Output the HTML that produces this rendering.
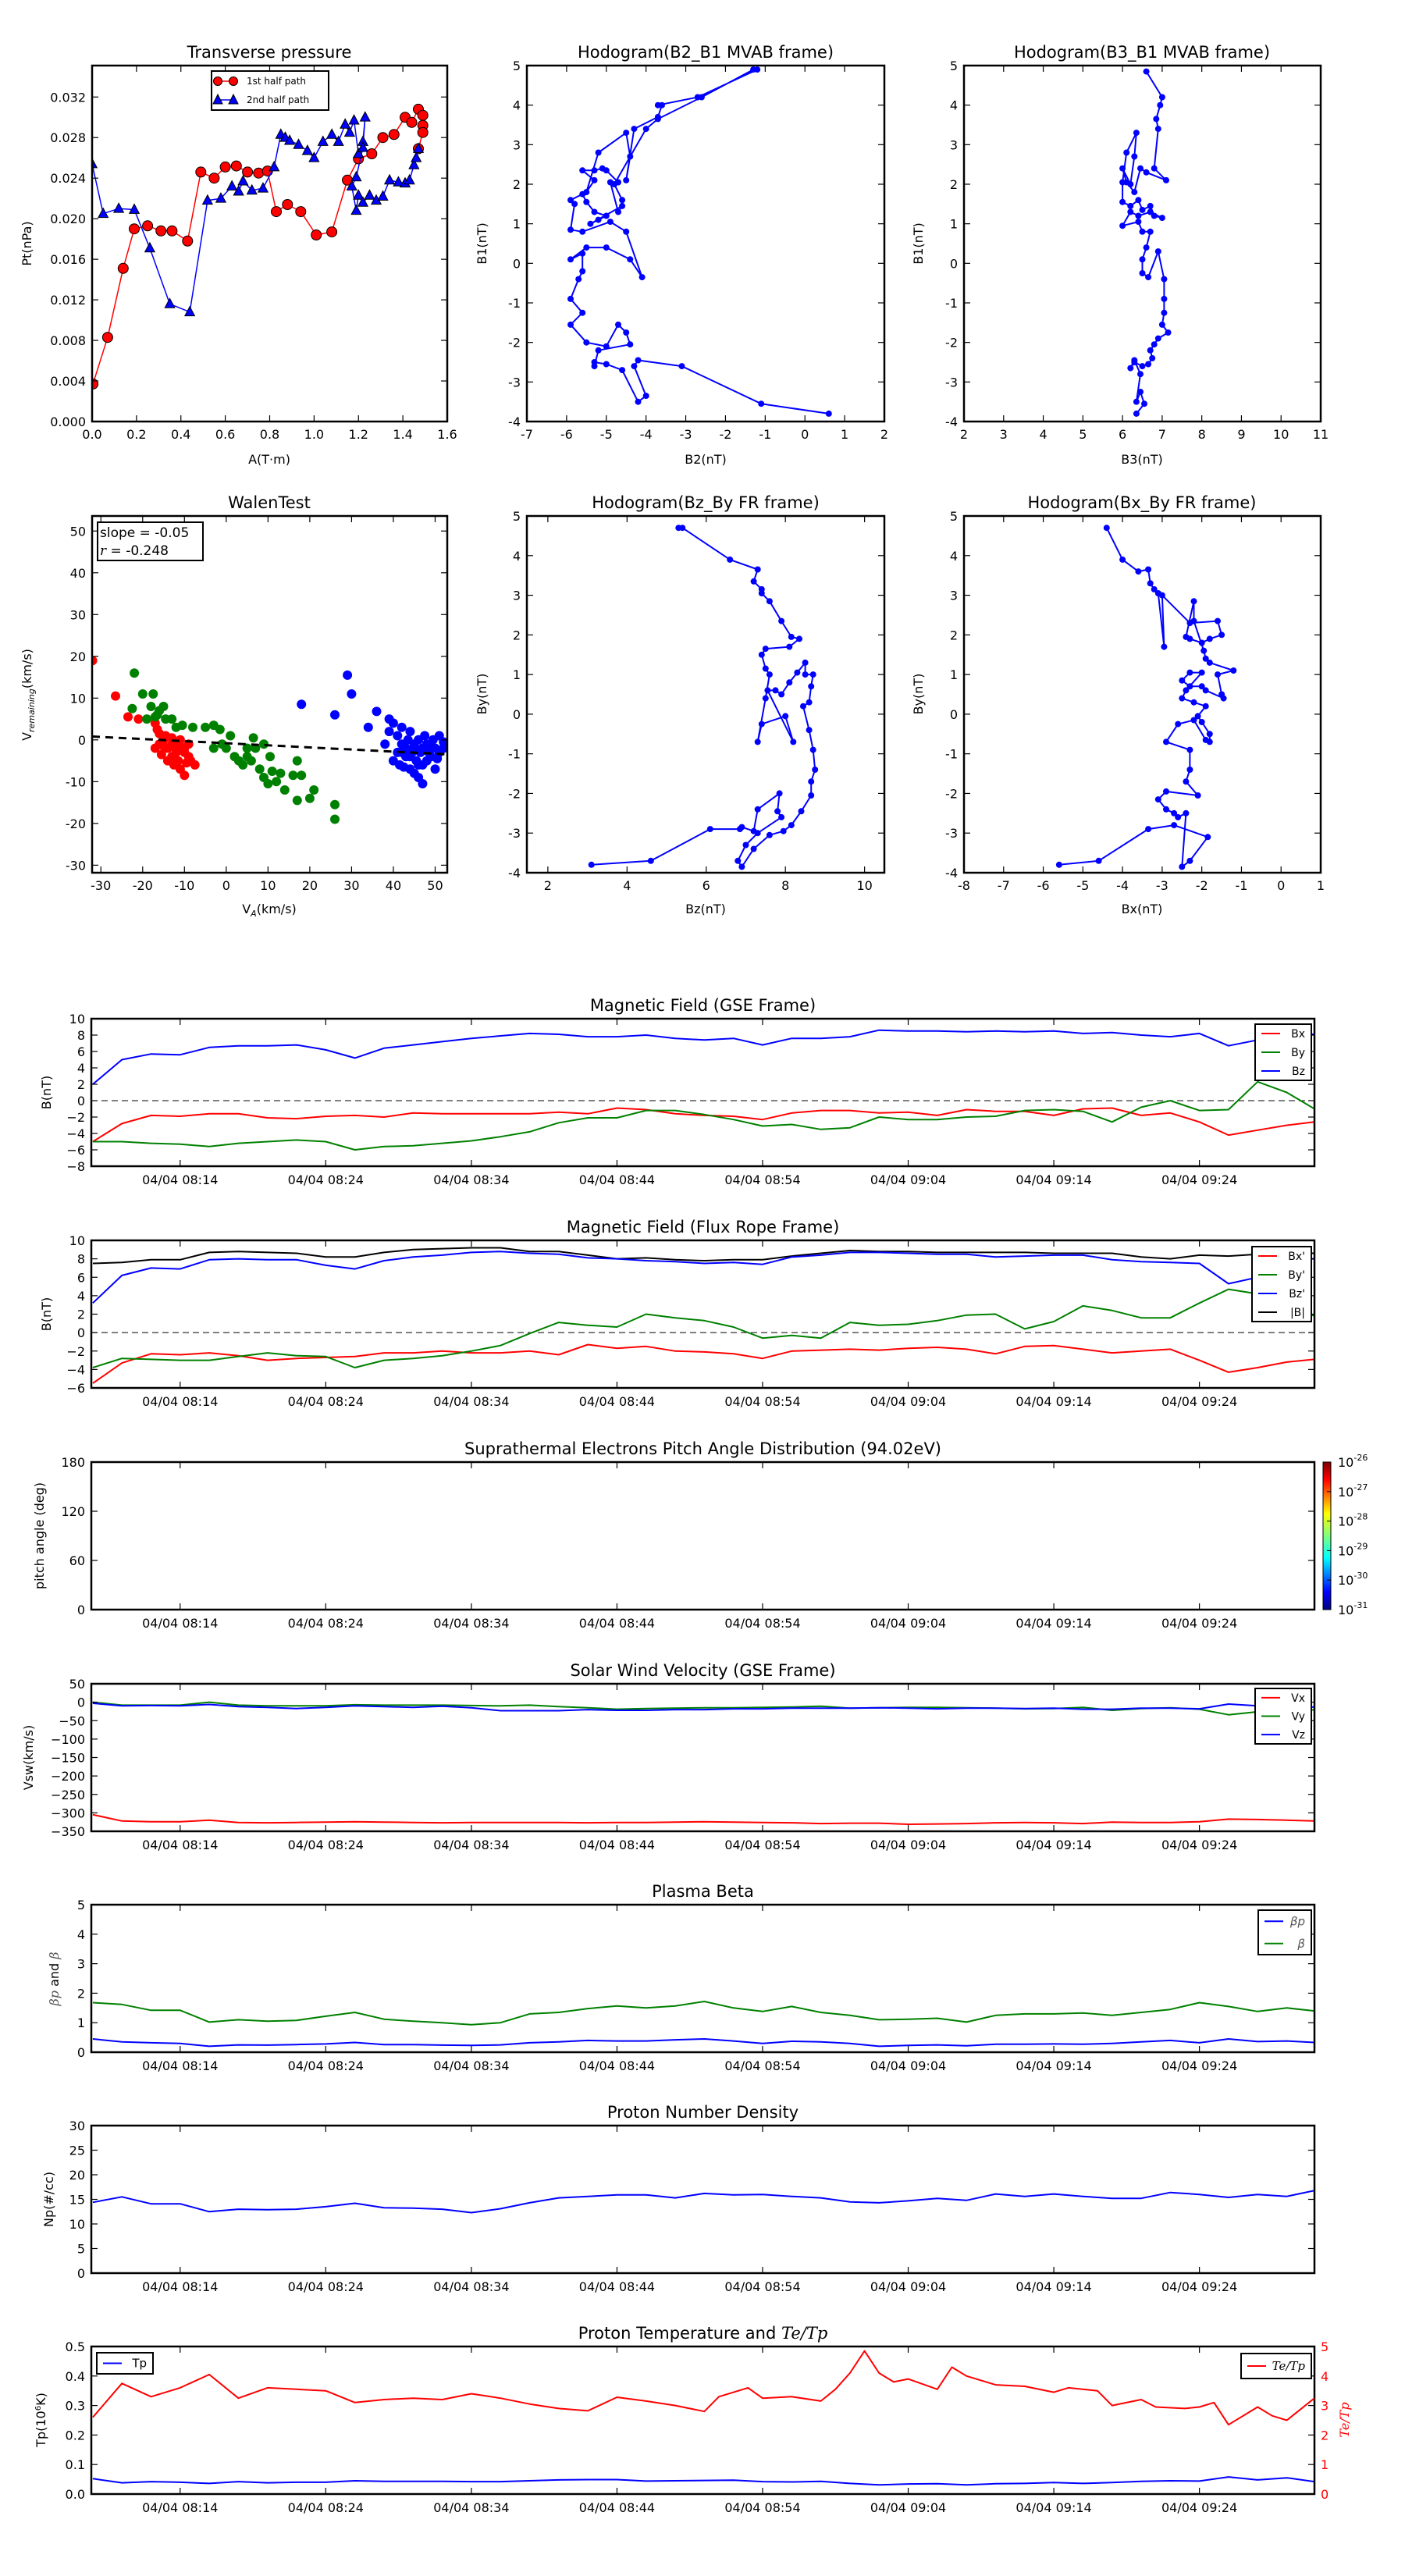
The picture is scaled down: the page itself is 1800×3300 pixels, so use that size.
<!DOCTYPE html>
<html><head><meta charset="utf-8"><title>Flux rope analysis</title>
<style>
html,body{margin:0;padding:0;background:#fff;}
svg{display:block;font-family:"DejaVu Sans","Liberation Sans",sans-serif;}
</style></head>
<body>
<svg id="fig" xmlns="http://www.w3.org/2000/svg" width="1800" height="3300" viewBox="0 0 1800 3300">
<defs>
<linearGradient id="jet" x1="0" y1="1" x2="0" y2="0">
<stop offset="0" stop-color="#00007f"/><stop offset="0.12" stop-color="#0000ff"/><stop offset="0.35" stop-color="#00ffff"/><stop offset="0.5" stop-color="#7fff7f"/><stop offset="0.65" stop-color="#ffff00"/><stop offset="0.88" stop-color="#ff0000"/><stop offset="1" stop-color="#7f0000"/>
</linearGradient>
</defs>
<rect x="0" y="0" width="1800" height="3300" fill="#fff"/>
</svg>
<script>
// ---------------- DATA ----------------
const ptRedA=[0.004,0.07,0.14,0.19,0.25,0.31,0.36,0.43,0.49,0.55,0.60,0.65,0.70,0.75,0.79,0.83,0.88,0.94,1.01,1.08,1.15,1.20,1.26,1.31,1.36,1.41,1.44,1.47,1.49,1.49,1.49,1.47];
const ptRedP=[0.0037,0.0083,0.0151,0.0190,0.0193,0.0188,0.0188,0.0178,0.0246,0.0240,0.0251,0.0252,0.0246,0.0245,0.0247,0.0207,0.0214,0.0207,0.0184,0.0187,0.0238,0.0259,0.0264,0.0280,0.0283,0.0300,0.0295,0.0308,0.0302,0.0292,0.0285,0.0269];
const ptBlueA=[0.0,0.05,0.12,0.19,0.26,0.35,0.44,0.52,0.58,0.63,0.66,0.68,0.72,0.77,0.82,0.85,0.87,0.89,0.93,0.97,1.00,1.04,1.08,1.11,1.14,1.16,1.18,1.20,1.22,1.23,1.22,1.19,1.17,1.19,1.20,1.22,1.25,1.28,1.31,1.34,1.38,1.41,1.43,1.45,1.46,1.47];
const ptBlueP=[0.0254,0.0205,0.0210,0.0209,0.0171,0.0116,0.0108,0.0218,0.0220,0.0232,0.0227,0.0237,0.0228,0.0230,0.0251,0.0283,0.0280,0.0277,0.0273,0.0267,0.0260,0.0276,0.0283,0.0276,0.0293,0.0285,0.0297,0.0264,0.0276,0.0300,0.0270,0.0241,0.0232,0.0208,0.0223,0.0216,0.0223,0.0218,0.0222,0.0238,0.0236,0.0235,0.0238,0.0253,0.0260,0.0269];
const hB2=[0.6,-1.1,-3.1,-4.2,-4.3,-4.0,-4.2,-4.6,-5.0,-5.3,-5.3,-5.2,-4.4,-4.5,-4.7,-5.0,-5.5,-5.9,-5.6,-5.9,-5.7,-5.6,-5.6,-5.9,-5.5,-5.0,-4.4,-4.1,-4.5,-4.9,-5.6,-5.9,-5.8,-5.9,-5.6,-5.5,-5.3,-5.0,-5.2,-5.4,-4.6,-4.7,-4.9,-4.7,-5.0,-5.1,-5.3,-5.6,-5.3,-5.5,-5.2,-4.5,-4.4,-4.5,-4.3,-3.7,-3.6,-3.7,-2.7,-1.2,-1.3,-2.6,-3.7,-4.0,-4.8,-4.6];
const hB1=[-3.8,-3.55,-2.6,-2.45,-2.6,-3.35,-3.5,-2.7,-2.55,-2.5,-2.6,-2.2,-2.05,-1.75,-1.55,-2.1,-2.0,-1.55,-1.25,-0.9,-0.4,-0.2,0.25,0.1,0.4,0.4,0.1,-0.35,0.8,1.05,0.8,0.85,1.5,1.6,1.75,1.55,1.3,1.2,1.1,1.0,1.45,1.3,2.05,2.05,2.35,2.4,2.35,2.35,2.1,1.8,2.8,3.3,2.7,2.1,3.4,3.7,4.0,4.0,4.2,4.9,4.9,4.2,3.65,3.4,2.0,1.6];
const hB3=[6.6,7.0,6.95,6.85,6.9,6.8,7.1,6.6,6.45,6.3,6.1,6.0,6.2,6.3,6.35,6.1,6.0,6.0,6.2,6.4,6.5,6.7,6.8,7.0,6.7,6.4,6.2,6.0,6.4,6.5,6.7,6.6,6.5,6.5,6.65,6.9,7.05,7.05,7.05,7.0,7.15,6.9,6.8,6.7,6.75,6.65,6.5,6.3,6.2,6.3,6.45,6.35,6.45,6.55,6.35];
const hB1c=[4.85,4.2,4.0,3.65,3.4,2.4,2.1,2.3,2.4,1.8,2.05,2.4,2.0,2.7,3.3,2.8,2.05,1.55,1.45,1.6,1.35,1.45,1.2,1.15,1.3,1.2,1.3,0.95,1.05,0.8,0.8,0.4,0.1,-0.25,-0.35,0.3,-0.4,-0.9,-1.25,-1.55,-1.75,-1.9,-2.05,-2.2,-2.4,-2.55,-2.6,-2.5,-2.65,-2.45,-2.8,-3.5,-3.25,-3.55,-3.8];
const wRedX=[-32,-26.5,-23.5,-21,-17,-16.5,-17,-16,-15,-15.5,-14,-14,-13,-13,-12.5,-12,-12,-11.5,-11,-11,-10,-10,-9.5,-9,-9,-8.5,-7.5,-16,-14.5,-13,-11,-10,-15,-12];
const wRedY=[19,10.5,5.5,5,4,2.5,-2,-1,0,-3.5,-2,-5,-1,-4,-6,-2,-3,-5,-1.5,-7,-3,-8.5,-5.5,-1,-4,-5,-6,1.5,1,0.5,0,-2,-1.5,-1];
const wGreenX=[-22,-22.5,-20,-17.5,-18,-17,-16,-15,-14.5,-13,-12,-10.5,-8,-5,-3,-1.5,1,-3,-1,0,2,3,4,5,5,6,6.5,7,8,9,9,10,10.5,11,12,13,14,16,17,17,18,20,21,26,26,-19,-16.5];
const wGreenY=[16,7.5,11,11,8,5.5,7,8,5,5,3,3.5,3,3,3.5,2.5,1,-2,-1,-2,-4,-5,-6,-2,-4,-5,0.5,-2,-7,-1,-9,-10.5,-4,-7.5,-10,-8,-12,-8.5,-5,-14.5,-8.5,-14,-12,-15.5,-19,5,6];
const wBlueX=[18,26,29,30,34,36,38,39,39,40,40,41,41,41.5,42,42,42.5,43,43,43.5,44,44,44.5,45,45,45.5,46,46,46.5,47,47,47.5,48,48,48.5,49,49.5,50,50,50.5,51,51,52,52,44,45,46,47,49,42];
const wBlueY=[8.5,6,15.5,11,3,6.8,-1,5,2,4,-5,-3,1,-6,-1,3,-6.5,-2,-4,0,-7,2,-3,-8,-1,-5,0,-9,-3,-10.5,-2,1,-5,-1,-3,-4,0,-7,-2,-4.5,1,-3,-2,-0.5,-4,-2,-6,-6,-2,-3];
const walenSlope=-0.05;
const walenIntercept=-0.8;
const hBz=[5.3,5.4,6.6,7.3,7.2,7.4,7.4,7.6,7.9,8.15,8.35,8.1,7.5,7.4,7.5,7.6,7.5,7.3,7.4,8.0,8.2,7.55,7.75,7.9,8.1,8.3,8.5,8.5,8.7,8.65,8.6,8.45,8.6,8.7,8.75,8.65,8.65,8.4,8.15,7.95,7.6,7.2,6.9,6.8,7.0,7.3,7.9,7.8,7.85,7.3,7.2,6.9,6.85,6.1,4.6,3.1];
const hBy=[4.7,4.7,3.9,3.65,3.35,3.15,3.05,2.85,2.35,1.95,1.9,1.7,1.65,1.5,1.15,1.0,0.4,-0.7,-0.25,-0.05,-0.7,0.6,0.6,0.5,0.8,1.05,1.3,1.0,1.0,0.7,0.3,0.2,-0.4,-0.9,-1.4,-1.7,-2.05,-2.45,-2.8,-2.95,-3.05,-3.4,-3.85,-3.7,-3.3,-3.0,-2.6,-2.45,-2.0,-2.4,-2.95,-2.85,-2.9,-2.9,-3.7,-3.8];
const hBx=[-4.4,-4.0,-3.6,-3.35,-3.3,-3.2,-3.1,-2.95,-3.0,-2.3,-1.6,-1.5,-1.8,-2.0,-2.3,-2.4,-2.2,-2.2,-1.95,-1.9,-1.8,-1.2,-1.6,-1.5,-1.45,-1.9,-2.0,-2.3,-2.5,-2.3,-2.0,-2.4,-2.5,-2.2,-1.9,-2.1,-2.0,-1.8,-1.8,-1.9,-2.2,-2.6,-2.9,-2.3,-2.3,-2.4,-2.1,-2.9,-3.1,-2.9,-2.7,-2.6,-2.4,-2.5,-2.3,-1.85,-2.7,-3.35,-4.6,-5.6];
const hBy2=[4.7,3.9,3.6,3.65,3.3,3.15,3.05,1.7,3.0,2.3,2.35,2.0,1.9,1.8,1.9,1.95,2.85,2.35,1.6,1.4,1.3,1.1,1.0,0.5,0.4,0.6,0.7,0.7,0.85,1.05,1.05,0.6,0.4,0.3,0.2,-0.05,-0.2,-0.5,-0.7,-0.65,-0.15,-0.25,-0.7,-0.9,-1.4,-1.7,-2.05,-1.95,-2.15,-2.4,-2.5,-2.6,-2.5,-3.85,-3.7,-3.1,-2.8,-2.9,-3.7,-3.8];

const tMin=[-6,-4,-2,0,2,4,6,8,10,12,14,16,18,20,22,24,26,28,30,32,34,36,38,40,42,44,46,48,50,52,54,56,58,60,62,64,66,68,70,72,74,76,77.9];
const timeTicks=[0,10,20,30,40,50,60,70];
const timeTickLabels=["04/04 08:14","04/04 08:24","04/04 08:34","04/04 08:44","04/04 08:54","04/04 09:04","04/04 09:14","04/04 09:24"];
const gseBx=[-5,-2.8,-1.8,-1.9,-1.6,-1.6,-2.1,-2.2,-1.9,-1.8,-2.0,-1.5,-1.6,-1.6,-1.6,-1.6,-1.4,-1.6,-0.9,-1.1,-1.6,-1.8,-1.9,-2.3,-1.5,-1.2,-1.2,-1.5,-1.4,-1.8,-1.1,-1.3,-1.3,-1.8,-1.0,-0.9,-1.8,-1.5,-2.6,-4.2,-3.6,-3.0,-2.6];
const gseBy=[-5,-5,-5.2,-5.3,-5.6,-5.2,-5.0,-4.8,-5.0,-6.0,-5.6,-5.5,-5.2,-4.9,-4.4,-3.8,-2.7,-2.1,-2.1,-1.2,-1.2,-1.7,-2.3,-3.1,-2.9,-3.5,-3.3,-2.0,-2.3,-2.3,-2.0,-1.9,-1.2,-1.1,-1.3,-2.6,-0.8,0,-1.2,-1.1,2.3,1.0,-1.0];
const gseBz=[2,5,5.7,5.6,6.5,6.7,6.7,6.8,6.2,5.2,6.4,6.8,7.2,7.6,7.9,8.2,8.1,7.8,7.8,8.0,7.6,7.4,7.6,6.8,7.6,7.6,7.8,8.6,8.5,8.5,8.4,8.5,8.4,8.5,8.2,8.3,8.0,7.8,8.2,6.7,7.4,8.2,8.1];
const frBx=[-5.5,-3.3,-2.3,-2.4,-2.2,-2.5,-3.0,-2.8,-2.7,-2.6,-2.2,-2.2,-2.0,-2.2,-2.2,-2.0,-2.4,-1.3,-1.7,-1.5,-2.0,-2.1,-2.3,-2.8,-2.0,-1.9,-1.8,-1.9,-1.7,-1.6,-1.8,-2.3,-1.5,-1.4,-1.8,-2.2,-2.0,-1.8,-3.0,-4.3,-3.8,-3.2,-2.9];
const frBy=[-3.8,-2.8,-2.9,-3.0,-3.0,-2.6,-2.2,-2.5,-2.6,-3.8,-3.0,-2.8,-2.5,-2.0,-1.4,-0.1,1.1,0.8,0.6,2.0,1.6,1.3,0.6,-0.6,-0.3,-0.6,1.1,0.8,0.9,1.3,1.9,2.0,0.4,1.2,2.9,2.4,1.6,1.6,3.2,4.7,4.2,3.0,1.8];
const frBz=[3.2,6.2,7.0,6.9,7.9,8.0,7.9,7.9,7.3,6.9,7.8,8.2,8.4,8.7,8.8,8.6,8.5,8.1,8.0,7.8,7.7,7.5,7.6,7.4,8.2,8.4,8.7,8.7,8.6,8.5,8.5,8.2,8.3,8.4,8.4,7.9,7.7,7.6,7.5,5.3,6.0,8.0,8.0];
const frBt=[7.5,7.6,7.9,7.9,8.7,8.8,8.7,8.6,8.2,8.2,8.7,9.0,9.1,9.2,9.2,8.8,8.8,8.4,8.0,8.1,7.9,7.8,7.9,7.9,8.3,8.6,8.9,8.8,8.8,8.7,8.7,8.7,8.7,8.6,8.6,8.6,8.2,8.0,8.4,8.3,8.5,8.6,8.6];
const vx=[-305,-322,-324,-324,-320,-326,-327,-326,-325,-324,-325,-326,-327,-326,-326,-326,-326,-327,-326,-326,-325,-324,-325,-326,-327,-329,-328,-328,-331,-330,-329,-327,-326,-327,-329,-325,-326,-326,-324,-317,-318,-320,-322];
const vy=[0,-8,-8,-8,0,-8,-10,-10,-10,-7,-8,-8,-8,-9,-10,-8,-12,-15,-19,-17,-16,-15,-15,-14,-13,-11,-16,-15,-14,-14,-15,-16,-18,-17,-14,-22,-17,-15,-19,-34,-26,-20,-21];
const vz=[-3,-10,-9,-10,-6,-12,-14,-17,-14,-10,-12,-14,-11,-15,-23,-23,-23,-20,-22,-22,-20,-20,-18,-18,-16,-16,-16,-15,-16,-18,-16,-16,-17,-16,-19,-19,-16,-16,-18,-5,-10,-16,-13];
const betaP=[0.45,0.35,0.32,0.3,0.2,0.25,0.24,0.26,0.28,0.33,0.26,0.26,0.24,0.23,0.25,0.32,0.35,0.4,0.38,0.38,0.42,0.45,0.38,0.3,0.37,0.35,0.3,0.2,0.23,0.25,0.22,0.27,0.27,0.28,0.27,0.3,0.35,0.4,0.32,0.45,0.36,0.38,0.33];
const betaT=[1.68,1.62,1.42,1.42,1.02,1.1,1.05,1.08,1.22,1.35,1.12,1.05,1.0,0.93,1.0,1.3,1.35,1.48,1.57,1.5,1.57,1.72,1.5,1.38,1.55,1.35,1.25,1.1,1.12,1.15,1.02,1.25,1.3,1.3,1.33,1.25,1.35,1.45,1.68,1.55,1.38,1.5,1.4];
const np=[14.4,15.5,14.1,14.1,12.5,13.0,12.9,13.0,13.5,14.2,13.3,13.2,13.0,12.3,13.1,14.3,15.3,15.6,15.9,15.9,15.3,16.2,15.9,16.0,15.6,15.3,14.5,14.3,14.7,15.2,14.8,16.1,15.6,16.1,15.6,15.2,15.2,16.4,16.0,15.4,16.0,15.6,16.8];
const tp=[0.052,0.038,0.042,0.04,0.036,0.042,0.038,0.040,0.040,0.045,0.043,0.043,0.043,0.042,0.042,0.045,0.048,0.049,0.049,0.044,0.045,0.046,0.047,0.042,0.041,0.043,0.036,0.031,0.034,0.035,0.031,0.035,0.036,0.039,0.036,0.039,0.043,0.045,0.044,0.058,0.048,0.055,0.042];
const teT=[-6,-4,-2,0,2,4,6,8,10,12,14,16,18,20,22,24,26,28,30,32,34,36,37,39,40,42,44,45,46,47,48,49,50,52,53,54,56,58,60,61,63,64,66,67,69,70,71,72,74,75,76,77.9];
const teTp=[2.6,3.75,3.3,3.6,4.05,3.25,3.6,3.55,3.5,3.1,3.2,3.25,3.2,3.4,3.25,3.05,2.9,2.82,3.28,3.15,3.0,2.8,3.3,3.6,3.25,3.3,3.15,3.55,4.1,4.85,4.1,3.8,3.9,3.55,4.3,4.0,3.7,3.65,3.45,3.6,3.5,3.0,3.2,2.95,2.9,2.95,3.1,2.35,2.95,2.65,2.5,3.25];

// ---------------- HELPERS ----------------
const NS='http://www.w3.org/2000/svg';
const svg=document.getElementById('fig');
function mk(tag,attrs,name,parent){
  const el=document.createElementNS(NS,tag);
  for(const k in attrs) el.setAttribute(k,attrs[k]);
  
  
  (parent||svg).appendChild(el);
  return el;
}
function txt(x,y,s,size,anchor,name,extra,parent){
  const a={x:x,y:y,'font-size':size,'text-anchor':anchor||'middle',fill:'#000'};
  if(extra) for(const k in extra) a[k]=extra[k];
  const el=mk('text',a,name,parent);
  el.textContent=s;
  return el;
}
let clipN=0;
function makeAxes(x,y,w,h,xmin,xmax,ymin,ymax,name){
  const g=mk('g',{},name);
  const id='clip'+(clipN++);
  const cp=mk('clipPath',{id:id},name+'-clip',g);
  mk('rect',{x:x,y:y,width:w,height:h},name+'-clip-rect',cp);
  const data=mk('g',{'clip-path':'url(#'+id+')'},name+'-data',g);
  return {g:g,data:data,x:x,y:y,w:w,h:h,name:name,
    sx:v=>x+(v-xmin)/(xmax-xmin)*w,
    sy:v=>y+h-(v-ymin)/(ymax-ymin)*h};
}
function ticks(ax,xt,xl,yt,yl,xlabY,ylabX,fs,opt){
  opt=opt||{};
  const tl=8;
  xt.forEach((v,i)=>{
    const px=ax.sx(v);
    mk('line',{x1:px,y1:ax.y+ax.h,x2:px,y2:ax.y+ax.h-tl,stroke:'#000','stroke-width':1.2},ax.name+'-xtick',ax.g);
    mk('line',{x1:px,y1:ax.y,x2:px,y2:ax.y+tl,stroke:'#000','stroke-width':1.2},ax.name+'-xtick-top',ax.g);
    if(xl) txt(px,ax.y+ax.h+xlabY,xl[i],fs,'middle',ax.name+'-xtick-label',null,ax.g);
  });
  yt.forEach((v,i)=>{
    const py=ax.sy(v);
    mk('line',{x1:ax.x,y1:py,x2:ax.x+tl,y2:py,stroke:'#000','stroke-width':1.2},ax.name+'-ytick',ax.g);
    mk('line',{x1:ax.x+ax.w,y1:py,x2:ax.x+ax.w-tl,y2:py,stroke:'#000','stroke-width':1.2},ax.name+'-ytick-right',ax.g);
    if(yl && !opt.noLeft) txt(ax.x-ylabX,py+6,yl[i],fs,'end',ax.name+'-ytick-label',null,ax.g);
  });
}
function frame(ax){
  mk('rect',{x:ax.x,y:ax.y,width:ax.w,height:ax.h,fill:'none',stroke:'#000','stroke-width':2.5},ax.name+'-frame',ax.g);
}
function line(ax,xs,ys,color,w,name,dash){
  const pts=xs.map((v,i)=>ax.sx(v).toFixed(1)+','+ax.sy(ys[i]).toFixed(1)).join(' ');
  const a={points:pts,fill:'none',stroke:color,'stroke-width':w,'stroke-linejoin':'round'};
  if(dash) a['stroke-dasharray']=dash;
  return mk('polyline',a,name,ax.data);
}
function dots(ax,xs,ys,color,r,name,edge){
  xs.forEach((v,i)=>{
    mk('circle',{cx:ax.sx(v).toFixed(1),cy:ax.sy(ys[i]).toFixed(1),r:r,fill:color,stroke:edge||'none','stroke-width':1},name,ax.data);
  });
}
function tris(ax,xs,ys,color,s,name){
  xs.forEach((v,i)=>{
    const cx=ax.sx(v),cy=ax.sy(ys[i]);
    mk('polygon',{points:(cx)+','+(cy-s)+' '+(cx-s*0.9)+','+(cy+s*0.7)+' '+(cx+s*0.9)+','+(cy+s*0.7),fill:color,stroke:'#000','stroke-width':1},name,ax.data);
  });
}
function ylabel(x,y,s,size,name,color,extra){
  const a={transform:'rotate(-90 '+x+' '+y+')'};
  if(color) a.fill=color;
  if(extra) for(const k in extra) a[k]=extra[k];
  return txt(x,y,s,size,'middle',name,a);
}
function range(a,b,s){const r=[];for(let v=a;v<=b+1e-9;v+=s)r.push(+v.toFixed(6));return r;}
const FS=16, TFS=21;

// ---------------- ROW 1 ----------------
(function(){
  const ax=makeAxes(118,84,455,456,0,1.6,0,0.0351,'pt-plot');
  line(ax,ptRedA,ptRedP,'#ff0000',1.5,'pt-first-half-line');
  dots(ax,ptRedA,ptRedP,'#ff0000',6.5,'pt-first-half-marker','#000');
  line(ax,ptBlueA,ptBlueP,'#0000ff',1.5,'pt-second-half-line');
  tris(ax,ptBlueA,ptBlueP,'#0000ff',7,'pt-second-half-marker');
  const xt=range(0,1.6,0.2);
  const yt=range(0,0.032,0.004);
  ticks(ax,xt,xt.map(v=>v.toFixed(1)),yt,yt.map(v=>v.toFixed(3)),22,8,FS);
  frame(ax);
  txt(345,74,'Transverse pressure',TFS,'middle','pt-title');
  txt(345,594,'A(T·m)',FS,'middle','pt-x-axis-title');
  ylabel(40,312,'Pt(nPa)',FS,'pt-y-axis-title');
  const lg=mk('g',{},'pt-legend');
  mk('rect',{x:271,y:91,width:150,height:50,fill:'#fff',stroke:'#000','stroke-width':2},'pt-legend-box',lg);
  mk('line',{x1:277,y1:104,x2:301,y2:104,stroke:'#ff0000','stroke-width':1.5},'legend-first-half-line',lg);
  mk('circle',{cx:279,cy:104,r:5.5,fill:'#ff0000',stroke:'#000'},'legend-first-half-marker',lg);
  mk('circle',{cx:299,cy:104,r:5.5,fill:'#ff0000',stroke:'#000'},'legend-first-half-marker',lg);
  txt(316,108,'1st half path',12,'start','legend-first-half-label',null,lg);
  mk('line',{x1:277,y1:128,x2:301,y2:128,stroke:'#0000ff','stroke-width':1.5},'legend-second-half-line',lg);
  mk('polygon',{points:'279,121 273,133 285,133',fill:'#0000ff',stroke:'#000'},'legend-second-half-marker',lg);
  mk('polygon',{points:'299,121 293,133 305,133',fill:'#0000ff',stroke:'#000'},'legend-second-half-marker',lg);
  txt(316,132,'2nd half path',12,'start','legend-second-half-label',null,lg);
})();
(function(){
  const ax=makeAxes(675,84,458,456,-7,2,-4,5,'hodogram-b2-b1');
  line(ax,hB2,hB1,'#0000ff',2,'hodogram-b2-b1-line');
  dots(ax,hB2,hB1,'#0000ff',4,'hodogram-b2-b1-point');
  const xt=range(-7,2,1), yt=range(-4,5,1);
  ticks(ax,xt,xt.map(String),yt,yt.map(String),22,8,FS);
  frame(ax);
  txt(904,74,'Hodogram(B2_B1 MVAB frame)',TFS,'middle','hodogram-b2-b1-title');
  txt(904,594,'B2(nT)',FS,'middle','hodogram-b2-b1-x-axis-title');
  ylabel(623,312,'B1(nT)',FS,'hodogram-b2-b1-y-axis-title');
})();
(function(){
  const ax=makeAxes(1235,84,457,456,2,11,-4,5,'hodogram-b3-b1');
  line(ax,hB3,hB1c,'#0000ff',2,'hodogram-b3-b1-line');
  dots(ax,hB3,hB1c,'#0000ff',4,'hodogram-b3-b1-point');
  const xt=range(2,11,1), yt=range(-4,5,1);
  ticks(ax,xt,xt.map(String),yt,yt.map(String),22,8,FS);
  frame(ax);
  txt(1463,74,'Hodogram(B3_B1 MVAB frame)',TFS,'middle','hodogram-b3-b1-title');
  txt(1463,594,'B3(nT)',FS,'middle','hodogram-b3-b1-x-axis-title');
  ylabel(1182,312,'B1(nT)',FS,'hodogram-b3-b1-y-axis-title');
})();

// ---------------- ROW 2 ----------------
(function(){
  const ax=makeAxes(118,661,455,457,-32.1,52.9,-31.8,53.6,'walen-test');
  dots(ax,wRedX,wRedY,'#ff0000',6,'walen-red-point');
  dots(ax,wGreenX,wGreenY,'#008000',6,'walen-green-point');
  dots(ax,wBlueX,wBlueY,'#0000ff',6,'walen-blue-point');
  const fx=[-32.1,52.9];
  line(ax,fx,fx.map(v=>walenSlope*v+walenIntercept),'#000',3,'walen-fit-line','10,7');
  const xt=range(-30,50,10), yt=range(-30,50,10);
  ticks(ax,xt,xt.map(String),yt,yt.map(String),22,8,FS);
  frame(ax);
  mk('rect',{x:125,y:669,width:135,height:49,fill:'#fff',stroke:'#000','stroke-width':2},'walen-stats-box');
  txt(128,688,'slope = -0.05',17,'start','walen-slope-text');
  const r=txt(128,711,'',17,'start','walen-r-text');
  const t1=mk('tspan',{'font-style':'italic','font-family':'"DejaVu Serif",serif'},'walen-r-symbol',r); t1.textContent='r';
  const t2=mk('tspan',{},'walen-r-value',r); t2.textContent=' = -0.248';
  txt(345,651,'WalenTest',TFS,'middle','walen-title');
  const xl=txt(345,1170,'V',FS,'middle','walen-x-axis-title');
  const s1=mk('tspan',{'font-size':11,dy:4,'font-style':'italic'},'walen-x-subscript',xl); s1.textContent='A';
  const s2=mk('tspan',{dy:-4},'walen-x-unit',xl); s2.textContent='(km/s)';
  const yl=ylabel(40,890,'V',FS,'walen-y-axis-title');
  const s3=mk('tspan',{'font-size':11,dy:4,'font-style':'italic'},'walen-y-subscript',yl); s3.textContent='remaining';
  const s4=mk('tspan',{dy:-4},'walen-y-unit',yl); s4.textContent='(km/s)';
})();
(function(){
  const ax=makeAxes(675,661,458,457,1.47,10.5,-4,5,'hodogram-bz-by');
  line(ax,hBz,hBy,'#0000ff',2,'hodogram-bz-by-line');
  dots(ax,hBz,hBy,'#0000ff',4,'hodogram-bz-by-point');
  const xt=range(2,10,2), yt=range(-4,5,1);
  ticks(ax,xt,xt.map(String),yt,yt.map(String),22,8,FS);
  frame(ax);
  txt(904,651,'Hodogram(Bz_By FR frame)',TFS,'middle','hodogram-bz-by-title');
  txt(904,1170,'Bz(nT)',FS,'middle','hodogram-bz-by-x-axis-title');
  ylabel(623,889,'By(nT)',FS,'hodogram-bz-by-y-axis-title');
})();
(function(){
  const ax=makeAxes(1235,661,457,457,-8,1,-4,5,'hodogram-bx-by');
  line(ax,hBx,hBy2,'#0000ff',2,'hodogram-bx-by-line');
  dots(ax,hBx,hBy2,'#0000ff',4,'hodogram-bx-by-point');
  const xt=range(-8,1,1), yt=range(-4,5,1);
  ticks(ax,xt,xt.map(String),yt,yt.map(String),22,8,FS);
  frame(ax);
  txt(1463,651,'Hodogram(Bx_By FR frame)',TFS,'middle','hodogram-bx-by-title');
  txt(1463,1170,'Bx(nT)',FS,'middle','hodogram-bx-by-x-axis-title');
  ylabel(1182,889,'By(nT)',FS,'hodogram-bx-by-y-axis-title');
})();

// ---------------- TIME SERIES ----------------
const TL=117, TW=1684-117, TH=189;
const tops=[1305,1589,1873,2157,2440,2723,3006];
function tsPanel(k,ymin,ymax,yt,title,name,ylab,ylabX){
  const ax=makeAxes(TL,tops[k],TW,TH,-6.1,77.9,ymin,ymax,name);
  ax.yt=yt;
  txt(TL+TW/2,tops[k]-10,title,TFS,'middle',name+'-title');
  if(ylab) ylabel(ylabX,tops[k]+TH/2,ylab,FS,name+'-y-axis-title');
  return ax;
}
function finish(ax,noLeft,ylabels){
  const yl=ylabels||ax.yt.map(v=>String(v).replace('-','\u2212'));
  ticks(ax,timeTicks,timeTickLabels,ax.yt,yl,23,8,FS,{noLeft:noLeft});
  frame(ax);
}
function legend(x,y,w,h,items,name,fs){
  const g=mk('g',{},name);
  mk('rect',{x:x,y:y,width:w,height:h,fill:'#fff',stroke:'#000','stroke-width':2},name+'-box',g);
  const step=h/items.length;
  items.forEach((it,i)=>{
    const cy=y+step*(i+0.5);
    mk('line',{x1:x+8,y1:cy,x2:x+32,y2:cy,stroke:it[1],'stroke-width':2},name+'-swatch',g);
    txt(x+w-8,cy+5,it[0],fs||14,'end',name+'-label',it[2]||null,g);
  });
  return g;
}
(function(){
  const ax=tsPanel(0,-8,10,range(-8,10,2),'Magnetic Field (GSE Frame)','magnetic-field-gse','B(nT)',65);
  line(ax,[-6.1,77.9],[0,0],'#000',1,'gse-zero-line','8,5');
  line(ax,tMin,gseBx,'#ff0000',2,'gse-bx-line');
  line(ax,tMin,gseBy,'#008000',2,'gse-by-line');
  line(ax,tMin,gseBz,'#0000ff',2,'gse-bz-line');
  finish(ax);
  legend(1608,1312,72,72,[['Bx','#ff0000'],['By','#008000'],['Bz','#0000ff']],'gse-legend');
})();
(function(){
  const ax=tsPanel(1,-6,10,range(-6,10,2),'Magnetic Field (Flux Rope Frame)','magnetic-field-fr','B(nT)',65);
  line(ax,[-6.1,77.9],[0,0],'#000',1,'fr-zero-line','8,5');
  line(ax,tMin,frBx,'#ff0000',2,'fr-bx-line');
  line(ax,tMin,frBy,'#008000',2,'fr-by-line');
  line(ax,tMin,frBt,'#000000',2,'fr-btotal-line');
  line(ax,tMin,frBz,'#0000ff',2,'fr-bz-line');
  finish(ax);
  legend(1604,1597,76,96,[["Bx'",'#ff0000'],["By'",'#008000'],["Bz'",'#0000ff'],['|B|','#000']],'fr-legend');
})();
(function(){
  const ax=tsPanel(2,0,180,[0,60,120,180],'Suprathermal Electrons Pitch Angle Distribution (94.02eV)','pitch-angle','pitch angle (deg)',56);
  finish(ax);
  mk('rect',{x:1695,y:1873,width:10,height:189,fill:'url(#jet)',stroke:'#000','stroke-width':1},'colorbar');
  const cbExp=['-26','-27','-28','-29','-30','-31'];
  cbExp.forEach((e,i)=>{
    const yy=1873+i*189/5;
    mk('line',{x1:1700,y1:yy,x2:1705,y2:yy,stroke:'#000','stroke-width':1},'colorbar-tick');
    const t=txt(1714,yy+6,'10',16,'start','colorbar-tick-label');
    const s=mk('tspan',{'font-size':11,dy:-8},'colorbar-exponent',t); s.textContent=e;
  });
})();
(function(){
  const ax=tsPanel(3,-350,50,range(-350,50,50),'Solar Wind Velocity (GSE Frame)','solar-wind-velocity','Vsw(km/s)',42);
  line(ax,tMin,vx,'#ff0000',2,'vx-line');
  line(ax,tMin,vy,'#008000',2,'vy-line');
  line(ax,tMin,vz,'#0000ff',2,'vz-line');
  finish(ax);
  legend(1608,2163,72,71,[['Vx','#ff0000'],['Vy','#008000'],['Vz','#0000ff']],'velocity-legend');
})();
(function(){
  const ax=tsPanel(4,0,5,range(0,5,1),'Plasma Beta','plasma-beta',null,0);
  line(ax,tMin,betaP,'#0000ff',2,'beta-p-line');
  line(ax,tMin,betaT,'#008000',2,'beta-line');
  finish(ax);
  const yl=ylabel(75,2535,'',FS,'plasma-beta-y-axis-title','#555');
  const a=mk('tspan',{'font-style':'italic','font-family':'"DejaVu Serif",serif'},'beta-p-symbol',yl); a.textContent='βp';
  const b=mk('tspan',{fill:'#000'},'beta-and',yl); b.textContent=' and ';
  const c=mk('tspan',{'font-style':'italic','font-family':'"DejaVu Serif",serif'},'beta-symbol',yl); c.textContent='β';
  legend(1612,2447,68,57,[['βp','#0000ff',{'font-style':'italic',fill:'#555'}],['β','#008000',{'font-style':'italic',fill:'#555'}]],'beta-legend',15);
})();
(function(){
  const ax=tsPanel(5,0,30,range(0,30,5),'Proton Number Density','proton-density','Np(#/cc)',68);
  line(ax,tMin,np,'#0000ff',2,'np-line');
  finish(ax);
})();
(function(){
  const ax=tsPanel(6,0,0.5,range(0,0.5,0.1),'','proton-temperature',null,0);
  const ax2=makeAxes(TL,tops[6],TW,TH,-6.1,77.9,0,5,'te-tp-axis');
  line(ax,tMin,tp,'#0000ff',2,'tp-line');
  line(ax2,teT,teTp,'#ff0000',2,'te-tp-line');
  finish(ax,false,ax.yt.map(v=>v.toFixed(1)));
  range(0,5,1).forEach(v=>{
    txt(TL+TW+8,ax2.sy(v)+6,String(v),FS,'start','te-tp-ytick-label',{fill:'#ff0000'});
  });
  const t=txt(TL+TW/2,tops[6]-10,'Proton Temperature and ',TFS,'middle','proton-temperature-title');
  const m=mk('tspan',{'font-style':'italic','font-family':'"DejaVu Serif",serif'},'te-tp-math',t); m.textContent='Te/Tp';
  const yl=ylabel(58,3100,'Tp(10',FS,'proton-temperature-y-axis-title');
  const sp=mk('tspan',{'font-size':10,dy:-6},'tp-exponent',yl); sp.textContent='6';
  const sp2=mk('tspan',{dy:6},'tp-unit',yl); sp2.textContent='K)';
  ylabel(1728,3100,'Te/Tp',FS,'te-tp-y-axis-title','#ff0000',{'font-style':'italic','font-family':'"DejaVu Serif",serif'});
  legend(124,3014,72,27,[['Tp','#0000ff']],'tp-legend',15);
  legend(1590,3015,90,32,[['Te/Tp','#ff0000',{'font-style':'italic','font-family':'"DejaVu Serif",serif'}]],'te-tp-legend',15);
})();
</script>
</body></html>
